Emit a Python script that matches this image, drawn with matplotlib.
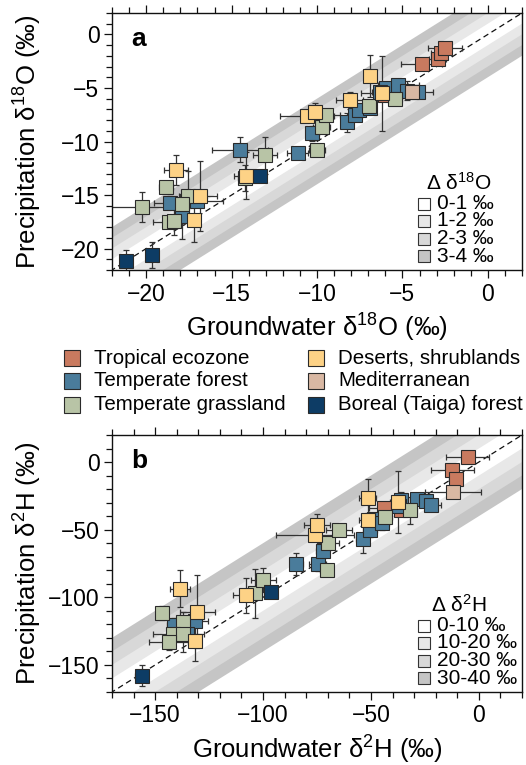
import matplotlib
matplotlib.use("Agg")
import matplotlib.pyplot as plt
from matplotlib.lines import Line2D
import numpy as np

plt.rcParams['font.family'] = ['Liberation Sans', 'DejaVu Sans']
plt.rcParams['mathtext.default'] = 'regular'

# ---------------- data ----------------
categories = ["Tropical ecozone", "Temperate forest", "Temperate grassland",
              "Deserts, shrublands", "Mediterranean", "Boreal (Taiga) forest"]
cat_codes = ["T", "F", "G", "D", "M", "B"]
cat_colors = ["#c97a5f", "#4a7c9b", "#b8c4a6", "#fdd286", "#d9b8a3", "#0d3c65"]

# panel a : delta 18O
a_cat = ["B", "B", "G", "G", "D", "F", "G", "G", "D", "F", "F", "G", "G", "D",
         "F", "G", "D", "B", "G", "F", "G", "F", "G", "D", "D", "G", "F", "D",
         "F", "F", "F", "G", "D", "F", "F", "D", "T", "F", "G", "M", "F", "F",
         "T", "T", "T", "T"]
a_x = [-21.2, -19.65, -20.26, -18.83, -18.25, -18.62, -17.57, -17.9, -16.87, -17.02,
       -17.9, -18.68, -18.39, -17.22, -14.49, -14.2, -14.13, -13.32, -13.02, -11.13,
       -10.0, -10.27, -9.71, -10.58, -10.14, -9.47, -8.25, -8.09, -7.76, -7.56,
       -6.92, -6.98, -6.92, -5.95, -6.3, -6.2, -6.0, -5.23, -5.42, -4.44,
       -4.74, -4.09, -3.86, -2.92, -2.73, -2.5]
a_y = [-21.15, -20.6, -16.16, -14.23, -12.65, -15.72, -15.1, -15.79, -15.1, -15.57,
       -17.0, -17.5, -17.43, -17.37, -10.76, -13.4, -13.18, -13.18, -11.29, -11.07,
       -10.82, -9.21, -8.65, -7.66, -7.29, -7.57, -8.22, -6.14, -7.5, -7.04,
       -6.88, -6.73, -3.88, -5.02, -5.4, -5.49, -5.65, -4.72, -6.05, -5.34,
       -5.24, -5.34, -2.76, -2.33, -1.71, -1.24]
a_xerr = [0.3, 0.2, 1.8, 0.4, 0.7, 0.9, 0.5, 0.6, 1.0, 1.5,
          0.4, 0.9, 0.5, 0.4, 1.65, 0.4, 0.7, 0.3, 0.7, 0.6,
          0.45, 0.4, 0.5, 1.6, 0.4, 0.8, 0.3, 0.8, 0.4, 0.4,
          0.4, 0.3, 0.3, 0.6, 0.5, 1.2, 0.4, 1.2, 0.4, 0.5,
          0.4, 0.9, 1.2, 0.5, 0.6, 1.0]
a_yerr = [1.0, 1.2, 1.4, 0.5, 1.4, 0.6, 2.3, 0.8, 3.3, 0.5,
          2.1, 0.6, 1.3, 2.0, 1.2, 1.2, 2.2, 0.5, 1.7, 0.6,
          0.4, 0.7, 0.6, 0.5, 0.9, 0.5, 0.9, 0.8, 0.5, 0.4,
          0.5, 0.4, 2.0, 0.6, 0.5, 3.5, 0.4, 0.4, 0.4, 0.5,
          0.9, 0.4, 0.3, 0.4, 0.4, 0.4]

# panel b : delta 2H
b_cat = ["B", "G", "D", "F", "G", "F", "D", "G", "G", "F", "G", "D",
         "D", "G", "G", "B", "F", "F", "G", "F", "G", "D", "D", "G",
         "F", "F", "D", "D", "F", "F", "G", "T", "D", "F", "F", "T",
         "G", "F", "F", "F", "M", "T", "T", "T"]
b_x = [-156.2, -146.9, -138.4, -141.5, -137.3, -131.4, -130.4, -141.8, -137.2, -135.3,
       -143.8, -131.4, -107.8, -103.6, -99.8, -96.4, -84.6, -74.7, -70.4, -72.4,
       -69.9, -75.8, -75.0, -65.0, -53.9, -50.3, -51.5, -51.5, -48.7, -44.8,
       -43.3, -43.8, -37.4, -36.0, -37.1, -36.0, -31.7, -28.6, -24.7, -22.4,
       -11.9, -12.4, -10.8, -5.1]
b_y = [-157.9, -111.7, -93.5, -120.5, -118.6, -117.4, -110.7, -127.2, -127.2, -127.2,
       -133.3, -132.1, -98.4, -97.0, -87.2, -96.0, -75.6, -75.6, -79.8, -65.8,
       -59.7, -54.0, -46.7, -50.3, -57.2, -50.3, -43.0, -26.5, -42.0, -45.4,
       -40.5, -33.9, -29.7, -27.8, -32.7, -35.1, -35.6, -27.3, -29.0, -31.4,
       -22.4, -6.2, -12.5, 3.4]
b_xerr = [3, 2, 4.5, 3, 3, 6, 8, 9, 3, 8,
          9, 2, 6, 3, 6, 2, 3, 4, 3, 3,
          5, 18, 6, 6, 3, 3, 4, 4, 3, 3,
          3, 7, 4, 3, 3, 3, 3, 3, 3, 5,
          13, 10, 3, 10]
b_yerr = [8, 5, 13.5, 5, 8, 4, 27, 4, 13, 5,
          6, 15, 13, 18, 9, 2, 8, 5, 4, 5,
          5, 4, 8, 3, 10, 5, 5, 14, 4, 5,
          3, 4, 23, 6, 3, 3, 10, 3, 3, 3,
          4, 5, 5, 4]

a_bands = [1, 2, 3, 4]
b_bands = [10, 20, 30, 40]
band_colors = ["#ffffff", "#e8e8e8", "#d8d8d8", "#c5c5c5"]
a_band_labels = ["0-1 ‰", "1-2 ‰", "2-3 ‰", "3-4 ‰"]
b_band_labels = ["0-10 ‰", "10-20 ‰", "20-30 ‰", "30-40 ‰"]

a_ticks = [-20, -15, -10, -5, 0]
b_ticks = [-150, -100, -50, 0]

# ---------------- figure ----------------
fig = plt.figure(figsize=(5.26, 7.65), dpi=100)
W, H = 526, 765


def add_axes(left, top, right, bottom):
    return fig.add_axes([left / W, 1 - bottom / H, (right - left) / W, (bottom - top) / H])


axA = add_axes(112, 13, 522, 270)
axB = add_axes(112, 435, 522, 692)

edge = "#2a2a2a"


def draw_panel(ax, xs, ys, xe, ye, cats, bands, lim, ticks, minor, letter,
               xlabel, ylabel, header, band_labels):
    xx = np.array([lim[0] - 100, lim[1] + 100])
    # bands, outer first
    for i in range(len(bands) - 1, -1, -1):
        ax.fill_between(xx, xx - bands[i], xx + bands[i], color=band_colors[i],
                        lw=0, zorder=0)
    ax.plot(xx, xx, color="#111111", lw=0.9, ls=(0, (4.5, 3)), zorder=1)
    xs = np.array(xs); ys = np.array(ys); xe = np.array(xe); ye = np.array(ye)
    cats = np.array(cats)
    ax.errorbar(xs, ys, xerr=xe, yerr=ye, fmt='none', ecolor="#333333",
                elinewidth=0.9, capsize=2.0, capthick=0.9, zorder=2)
    for code, col in zip(cat_codes, cat_colors):
        m = cats == code
        if m.any():
            ax.plot(xs[m], ys[m], ls='none', marker='s', ms=10.5, mfc=col,
                    mec=edge, mew=0.8, zorder=3)
    ax.set_xlim(lim)
    ax.set_ylim(lim)
    ax.set_xticks(ticks)
    ax.set_yticks(ticks)
    ax.set_xticklabels([f"{t}".replace("-", "\u2212") for t in ticks])
    ax.set_yticklabels([f"{t}".replace("-", "\u2212") for t in ticks])
    ax.xaxis.set_minor_locator(matplotlib.ticker.MultipleLocator(minor))
    ax.yaxis.set_minor_locator(matplotlib.ticker.MultipleLocator(minor))
    ax.tick_params(which='both', direction='out', top=True, bottom=True,
                   left=True, right=False, width=0.9, color="#111111")
    ax.tick_params(which='major', length=6, labelsize=16.5, pad=3)
    ax.tick_params(which='minor', length=4)
    for s in ax.spines.values():
        s.set_linewidth(1.0)
        s.set_color("#111111")
    ax.set_xlabel(xlabel, fontsize=18.5)
    ax.set_ylabel(ylabel, fontsize=18.5)
    ax.xaxis.set_label_coords(0.5, -0.225)
    ax.xaxis.label.set_va('center')
    ax.yaxis.set_label_coords(-0.205, 0.5)
    ax.yaxis.label.set_va('center')
    ax.text(0.066, 0.9, letter, transform=ax.transAxes, fontsize=19,
            fontweight='bold', ha='center', va='center', zorder=5)
    # delta legend
    ax.text(0.846, 0.339, header, transform=ax.transAxes, fontsize=15,
            ha='center', va='center', zorder=5)
    rows = [0.258, 0.191, 0.122, 0.054]
    for i, lab in enumerate(band_labels):
        ax.plot([0.761], [rows[i]], transform=ax.transAxes, marker='s', ms=9,
                mfc=band_colors[i], mec="#333333", mew=0.8, ls='none',
                clip_on=False, zorder=5)
        ax.text(0.792, rows[i], lab, transform=ax.transAxes, fontsize=15,
                ha='left', va='center', zorder=5)


draw_panel(axA, a_x, a_y, a_xerr, a_yerr, a_cat, a_bands, (-22, 2), a_ticks, 1, "a",
           "Groundwater δ$^{18}$O (‰)", "Precipitation δ$^{18}$O (‰)",
           "Δ δ$^{18}$O", a_band_labels)
draw_panel(axB, b_x, b_y, b_xerr, b_yerr, b_cat, b_bands, (-170, 20), b_ticks, 10, "b",
           "Groundwater δ$^{2}$H (‰)", "Precipitation δ$^{2}$H (‰)",
           "Δ δ$^{2}$H", b_band_labels)

# ecozone legend
col_x = [72, 316]
row_y = [358, 381, 405]
for i, (name, col) in enumerate(zip(categories, cat_colors)):
    c, r = divmod(i, 3)
    fig.add_artist(Line2D([col_x[c] / W], [1 - row_y[r] / H], marker='s', ms=11,
                          mfc=col, mec=edge, mew=0.8, ls='none',
                          transform=fig.transFigure))
    fig.text((col_x[c] + 22) / W, 1 - row_y[r] / H, name, fontsize=14.8,
             ha='left', va='center')

fig.savefig("out.png", dpi=100)
